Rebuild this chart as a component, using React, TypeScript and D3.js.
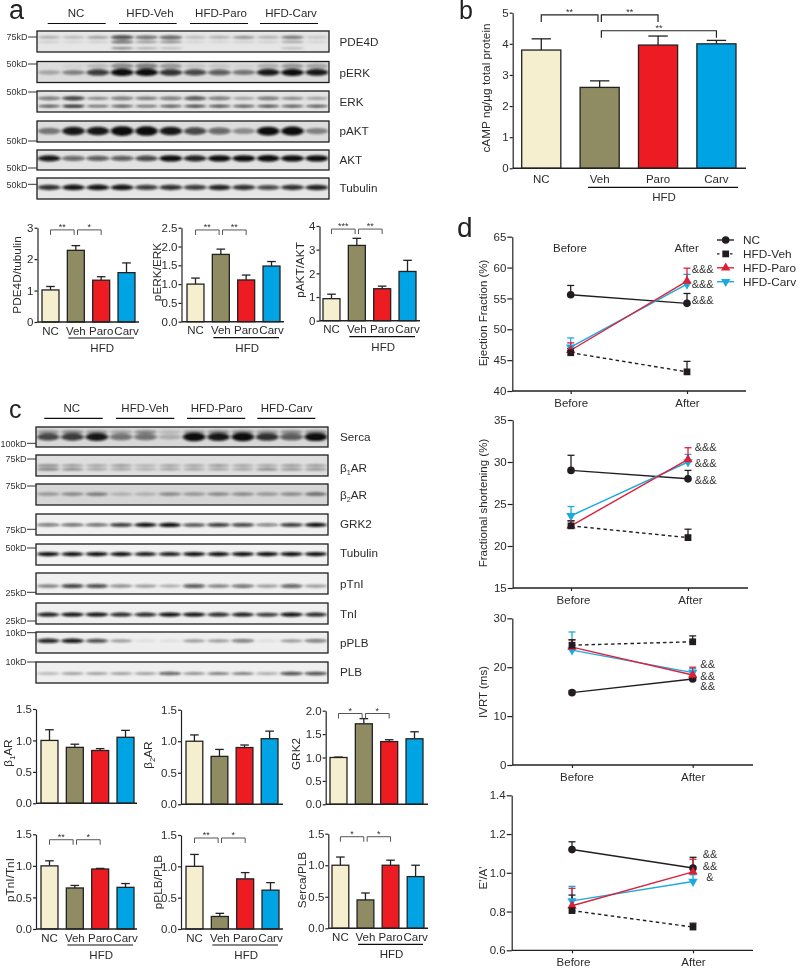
import React, { useEffect, useRef } from "react";
import * as d3 from "d3";

// ---------- categories ----------
const groups = ["NC", "Veh", "Paro", "Carv"];
const groupColors = ["#f6efcf", "#8f8b63", "#ed1c24", "#00a4e4"];
const groupHeaders = ["NC", "HFD-Veh", "HFD-Paro", "HFD-Carv"];

// ---------- bar values (mean, top of error bar) ----------
const pde4dV = [1.02, 2.28, 1.33, 1.57], pde4dE = [1.13, 2.43, 1.44, 1.88];
const perkV = [1.0, 1.79, 1.11, 1.48], perkE = [1.16, 1.93, 1.24, 1.6];
const paktV = [0.93, 3.18, 1.35, 2.08], paktE = [1.12, 3.48, 1.46, 2.55];
const campV = [3.8, 2.6, 3.96, 4.0], campE = [4.16, 2.81, 4.25, 4.11];
const b1V = [1.0, 0.89, 0.84, 1.05], b1E = [1.17, 0.94, 0.87, 1.16];
const b2V = [1.0, 0.76, 0.9, 1.04], b2E = [1.1, 0.87, 0.94, 1.16];
const grkV = [1.0, 1.72, 1.34, 1.4], grkE = [1.01, 1.83, 1.38, 1.55];
const ptniV = [1.0, 0.65, 0.95, 0.66], ptniE = [1.08, 0.69, 0.96, 0.72];
const pplbV = [1.0, 0.2, 0.8, 0.62], pplbE = [1.19, 0.25, 0.9, 0.74];
const sercaV = [1.0, 0.45, 1.0, 0.82], sercaE = [1.13, 0.56, 1.08, 1.0];

// ---------- line values [before, after] ----------
const timePoints = ["Before", "After"];
const efNC = [55.6, 54.2], efNCe = [57.1, 55.8];
const efVeh = [46.2, 43.1], efVehe = [46.9, 44.8];
const efParo = [46.6, 57.8], efParoe = [47.8, 59.9];
const efCarv = [47.1, 57.3], efCarve = [48.6, 58.9];
const fsNC = [29, 28], fsNCe = [30.8, 29];
const fsVeh = [22.4, 21], fsVehe = [23, 22];
const fsParo = [22.4, 30.3], fsParoe = [23, 31.7];
const fsCarv = [23.6, 30], fsCarve = [24.7, 30.9];
const ivNC = [14.8, 17.6], ivNCe = [15.2, 18];
const ivVeh = [24.5, 25.2], ivVehe = [25.6, 26.4];
const ivParo = [24.1, 18.4], ivParoe = [25.6, 20];
const ivCarv = [23.5, 18.9], ivCarve = [27.2, 19.7];
const eaNC = [1.12, 1.025], eaNCe = [1.16, 1.08];
const eaVeh = [0.805, 0.72], eaVehe = [0.885, 0.74];
const eaParo = [0.83, 1.005], eaParoe = [0.92, 1.07];
const eaCarv = [0.855, 0.955], eaCarve = [0.93, 0.99];

// ---------- blot band darkness per lane ----------
const pde4dHi = [0.25, 0.2, 0.3, 0.7, 0.55, 0.6, 0.2, 0.25, 0.35, 0.25, 0.45, 0.15];
const pde4dMid = [0.12, 0.1, 0.12, 0.6, 0.35, 0.4, 0.1, 0.1, 0.12, 0.12, 0.3, 0.1];
const pde4dLo = [0, 0, 0, 0.4, 0.25, 0.2, 0, 0, 0, 0, 0.2, 0];
const perkB = [0.25, 0.4, 0.75, 1, 1, 0.8, 0.7, 0.6, 0.45, 0.9, 0.95, 0.9];
const perkHaze = [0, 0.05, 0.15, 0.35, 0.4, 0.3, 0.1, 0.1, 0.05, 0.2, 0.3, 0.25];
const erkHi = [0.5, 0.75, 0.4, 0.5, 0.45, 0.5, 0.65, 0.5, 0.3, 0.5, 0.4, 0.3];
const erkLo = [0.7, 0.9, 0.6, 0.7, 0.6, 0.7, 0.8, 0.75, 0.7, 0.75, 0.7, 0.7];
const paktB = [0.45, 0.9, 0.9, 1.2, 1.1, 0.9, 0.7, 0.55, 0.35, 0.95, 1, 0.4];
const aktB = [0.9, 0.55, 0.6, 0.6, 0.7, 0.95, 0.85, 0.95, 0.95, 1, 0.95, 0.95];
const tubAB = [0.8, 0.9, 0.9, 0.9, 0.75, 0.8, 0.75, 0.85, 0.8, 0.7, 0.8, 0.85];
const sercaB = [0.7, 0.75, 0.9, 0.5, 0.5, 0.2, 1, 0.9, 1, 0.8, 0.6, 0.95];
const sercaHaze = [0.3, 0.35, 0.3, 0.25, 0.35, 0.15, 0.3, 0.35, 0.35, 0.3, 0.35, 0.35];
const b1Hi = [0.4, 0.35, 0.3, 0.35, 0.25, 0.3, 0.3, 0.35, 0.3, 0.3, 0.35, 0.35];
const b1Lo = [0.45, 0.4, 0.3, 0.3, 0.25, 0.3, 0.3, 0.3, 0.3, 0.4, 0.35, 0.35];
const b2B = [0.3, 0.35, 0.4, 0.2, 0.2, 0.35, 0.3, 0.35, 0.35, 0.3, 0.35, 0.45];
const grkB = [0.55, 0.6, 0.6, 0.8, 0.95, 1, 0.7, 0.8, 0.75, 0.5, 0.8, 0.95];
const tubCB = [1, 0.95, 1, 0.95, 0.9, 0.9, 1, 0.95, 1, 1, 1, 1];
const ptnB = [0.45, 0.75, 0.7, 0.4, 0.35, 0.3, 0.65, 0.45, 0.55, 0.35, 0.6, 0.35];
const tniB = [0.9, 0.95, 0.95, 0.85, 0.85, 1, 0.95, 0.85, 0.9, 0.8, 1, 0.85];
const pplbB = [0.85, 0.9, 0.7, 0.35, 0.08, 0.08, 0.35, 0.35, 0.5, 0.08, 0.35, 0.5];
const plbB = [0.25, 0.35, 0.35, 0.35, 0.35, 0.6, 0.4, 0.45, 0.45, 0.3, 0.7, 0.7];

// ---------- layout ----------
const FONT = "'Liberation Sans', Arial, sans-serif";
const INK = "#2b2b2b";
const lanes = d3.range(12);

const blotsA = [
  { name: "PDE4D", top: 31, bottom: 52, labelY: 46, bg: "#e6e6e6", bands: [[pde4dHi, 0.3, 4], [pde4dMid, 0.52, 3], [pde4dLo, 0.82, 3]] },
  { name: "pERK", top: 61.5, bottom: 82.5, labelY: 76.7, bg: "#dcdcdc", bands: [[perkHaze, 0.22, 7], [perkB, 0.52, 6]] },
  { name: "ERK", top: 91, bottom: 112, labelY: 106, bg: "#e4e4e4", bands: [[erkHi, 0.35, 4], [erkLo, 0.72, 2.5]] },
  { name: "pAKT", top: 121, bottom: 142, labelY: 135, bg: "#dddddd", bands: [[paktB, 0.48, 7.5]] },
  { name: "AKT", top: 150, bottom: 170, labelY: 164, bg: "#e2e2e2", bands: [[aktB, 0.42, 5.5]] },
  { name: "Tubulin", top: 178, bottom: 199, labelY: 191.7, bg: "#e6e6e6", bands: [[tubAB, 0.45, 5]] },
];
const blotsC = [
  { name: "Serca", top: 427, bottom: 447, labelY: 440.7, bg: "#d8d8d8", bands: [[sercaHaze, 0.25, 5], [sercaB, 0.5, 7]] },
  { name: "β|1|AR", top: 455, bottom: 476, labelY: 472.3, bg: "#dedede", bands: [[b1Hi, 0.5, 3], [b1Lo, 0.68, 3]] },
  { name: "β|2|AR", top: 484, bottom: 505, labelY: 499.3, bg: "#d6d6d6", bands: [[b2B, 0.48, 4.5]] },
  { name: "GRK2", top: 514, bottom: 535, labelY: 527.7, bg: "#f0f0f0", bands: [[grkB, 0.52, 3.5]] },
  { name: "Tubulin", top: 544, bottom: 565, labelY: 557.3, bg: "#f2f2f2", bands: [[tubCB, 0.48, 3.5]] },
  { name: "pTnI", top: 573, bottom: 594, labelY: 588.3, bg: "#f0f0f0", bands: [[ptnB, 0.62, 4]] },
  { name: "TnI", top: 603, bottom: 624, labelY: 617.7, bg: "#f0f0f0", bands: [[tniB, 0.55, 3.5]] },
  { name: "pPLB", top: 632, bottom: 653, labelY: 646.7, bg: "#eeeeee", bands: [[pplbB, 0.42, 4]] },
  { name: "PLB", top: 662, bottom: 683, labelY: 676, bg: "#efefef", bands: [[plbB, 0.55, 3.5]] },
];

const markersA: [string, number][] = [["75kD", 37], ["50kD", 64], ["50kD", 92], ["50kD", 141], ["50kD", 168], ["50kD", 184.3]];
const markersC: [string, number][] = [["100kD", 443.3], ["75kD", 459], ["75kD", 486], ["75kD", 529.3], ["50kD", 548], ["25kD", 592.3], ["25kD", 621], ["10kD", 632.7], ["10kD", 662]];

const d2 = (v: number) => d3.format(".1f")(v);
const d0 = (v: number) => d3.format("d")(v);

const t15 = [0, 0.5, 1, 1.5];
const barCharts = [
  { label: "PDE4D/tubulin", lx: 17, ly: 275, V: pde4dV, E: pde4dE, max: 3, ticks: [0, 1, 2, 3], fmt: d0, x0: 37.5, y0: 322, yT: 227.7, xE: 139, bL: 42, bR: 135, names: true, br: [[0, 1, 2.93, "**"], [1, 2, 2.93, "*"]] },
  { label: "pERK/ERK", lx: 157, ly: 272, V: perkV, E: perkE, max: 2.5, ticks: [0, 0.5, 1, 1.5, 2, 2.5], fmt: d2, x0: 181.5, y0: 321.7, yT: 227.7, xE: 284, bL: 187, bR: 280, names: true, br: [[0, 1, 2.44, "**"], [1, 2, 2.44, "**"]] },
  { label: "pAKT/AKT", lx: 300, ly: 270, V: paktV, E: paktE, max: 4, ticks: [0, 1, 2, 3, 4], fmt: d0, x0: 319.5, y0: 320.7, yT: 226, xE: 420, bL: 323, bR: 416, names: true, br: [[0, 1, 3.87, "***"], [1, 2, 3.87, "**"]] },
  { label: "cAMP ng/µg total protein", lx: 486, ly: 88, V: campV, E: campE, max: 5, ticks: [0, 1, 2, 3, 4, 5], fmt: d0, x0: 512.7, y0: 168.3, yT: 12.7, xE: 746, bL: 521.7, bR: 736, names: true, big: true, br: [[0, 1, 4.93, "**"], [1, 2, 4.93, "**"], [1, 3, 4.42, "**"]] },
  { label: "β|1|AR", lx: 8, ly: 753, V: b1V, E: b1E, max: 1.5, ticks: t15, fmt: d2, x0: 36, y0: 803.3, yT: 709, xE: 137, bL: 41, bR: 134, names: false, br: [] },
  { label: "β|2|AR", lx: 148, ly: 755, V: b2V, E: b2E, max: 1.5, ticks: t15, fmt: d2, x0: 181, y0: 804.3, yT: 709.7, xE: 283, bL: 186, bR: 278, names: false, br: [] },
  { label: "GRK2", lx: 296, ly: 754, V: grkV, E: grkE, max: 2, ticks: [0, 0.5, 1, 1.5, 2], fmt: d2, x0: 325.7, y0: 804.3, yT: 710.7, xE: 428, bL: 330, bR: 423, names: false, br: [[0, 1, 1.94, "*"], [1, 2, 1.94, "*"]] },
  { label: "pTnI/TnI", lx: 10, ly: 880, V: ptniV, E: ptniE, max: 1.5, ticks: t15, fmt: d2, x0: 36, y0: 929, yT: 834.3, xE: 137, bL: 41, bR: 134, names: true, br: [[0, 1, 1.414, "**"], [1, 2, 1.414, "*"]] },
  { label: "pPLB/PLB", lx: 158, ly: 882, V: pplbV, E: pplbE, max: 1.5, ticks: t15, fmt: d2, x0: 181, y0: 929, yT: 835, xE: 283, bL: 186, bR: 279, names: true, br: [[0, 1, 1.452, "**"], [1, 2, 1.452, "*"]] },
  { label: "Serca/PLB", lx: 302, ly: 880, V: sercaV, E: sercaE, max: 1.5, ticks: t15, fmt: d2, x0: 328.3, y0: 928.3, yT: 833.7, xE: 428, bL: 332, bR: 424, names: true, br: [[0, 1, 1.452, "*"], [1, 2, 1.452, "*"]] },
];

const lineCharts = [
  { label: "Ejection Fraction (%)", ly: 313, min: 40, max: 65, ticks: [40, 45, 50, 55, 60, 65], fmt: d0, x0: 512.3, y0: 391, yT: 236.7, xB: 570.7, xA: 687, xE: 746, shift: [0, 0],
    s: [[efNC, efNCe], [efCarv, efCarve], [efParo, efParoe], [efVeh, efVehe]],
    amp: [["&&&", 702.7, 269], ["&&&", 702.7, 284], ["&&&", 702.7, 300]] },
  { label: "Fractional shortening (%)", ly: 503, min: 15, max: 35, ticks: [15, 20, 25, 30, 35], fmt: d0, x0: 512.7, y0: 588, yT: 420, xB: 571, xA: 688, xE: 748, shift: [2, 2],
    s: [[fsNC, fsNCe], [fsCarv, fsCarve], [fsParo, fsParoe], [fsVeh, fsVehe]],
    amp: [["&&&", 705.7, 446.7], ["&&&", 705.7, 463], ["&&&", 705.7, 480]] },
  { label: "IVRT (ms)", ly: 692, min: 0, max: 30, ticks: [0, 10, 20, 30], fmt: d0, x0: 512.3, y0: 765, yT: 618.3, xB: 572, xA: 692.7, xE: 753, shift: [4.5, 0],
    s: [[ivNC, ivNCe], [ivCarv, ivCarve], [ivParo, ivParoe], [ivVeh, ivVehe]],
    amp: [["&&", 707.7, 664], ["&&", 707.7, 676], ["&&", 707.7, 686]] },
  { label: "E'/A'", ly: 878, min: 0.6, max: 1.4, ticks: [0.6, 0.8, 1, 1.2, 1.4], fmt: d2, x0: 511.7, y0: 950.3, yT: 795.3, xB: 572, xA: 693, xE: 753, shift: [1, 0],
    s: [[eaNC, eaNCe], [eaCarv, eaCarve], [eaParo, eaParoe], [eaVeh, eaVehe]],
    amp: [["&&", 710, 854], ["&&", 710, 866], ["&", 710, 877]] },
];

// order of s in lineCharts: NC, Carv, Paro, Veh
const seriesStyle = [
  { name: "NC", color: "#231f20", dash: null, sym: d3.symbolCircle, size: 46, rot: 0 },
  { name: "HFD-Carv", color: "#1fa9e0", dash: null, sym: d3.symbolTriangle, size: 38, rot: 180 },
  { name: "HFD-Paro", color: "#dd2038", dash: null, sym: d3.symbolTriangle, size: 38, rot: 0 },
  { name: "HFD-Veh", color: "#231f20", dash: "3.5,3", sym: d3.symbolSquare, size: 46, rot: 0 },
];
const legendOrder = [0, 3, 2, 1];

type Sel = d3.Selection<any, any, any, any>;

function txt(g: Sel, s: string, x: number, y: number, size: number, anchor = "start", fill = INK) {
  return g.append("text").attr("x", x).attr("y", y).attr("font-size", size).attr("text-anchor", anchor).attr("fill", fill).text(s);
}

// "β|1|AR" renders the middle part as a subscript
function richLabel(node: Sel, s: string, size: number) {
  const parts = s.split("|");
  if (parts.length === 1) { node.text(s); return; }
  node.text(null);
  node.append("tspan").text(parts[0]);
  node.append("tspan").attr("font-size", size * 0.62).attr("dy", size * 0.22).text(parts[1]);
  node.append("tspan").attr("dy", -size * 0.22).text(parts[2]);
}

function drawBlots(g: Sel, blots: any[], left: number, right: number, labelX: number, id: string) {
  const x = d3.scaleBand<number>().domain(lanes).range([left, right]);
  blots.forEach((b, i) => {
    const cid = `${id}${i}`;
    g.append("clipPath").attr("id", cid).append("rect").attr("x", left).attr("y", b.top).attr("width", right - left).attr("height", b.bottom - b.top);
    const y = d3.scaleLinear().domain([0, 1]).range([b.top, b.bottom]);
    const inner = g.append("g").attr("clip-path", `url(#${cid})`);
    inner.append("rect").attr("x", left).attr("y", b.top).attr("width", right - left).attr("height", b.bottom - b.top).attr("fill", b.bg);
    const bandG = inner.append("g").attr("filter", "url(#bandBlur)");
    b.bands.forEach(([vals, frac, thick]: [number[], number, number]) => {
      bandG.selectAll(null).data(vals).enter().append("ellipse")
        .attr("cx", (_d, k) => x(k)! + x.bandwidth() / 2)
        .attr("rx", x.bandwidth() * 0.47)
        .attr("cy", y(frac))
        .attr("ry", (d) => (thick * (0.6 + 0.6 * d)) / 2)
        .attr("fill", "#0d0d0d")
        .attr("opacity", (d) => Math.min(1, d * 1.05));
    });
    g.append("rect").attr("x", left).attr("y", b.top).attr("width", right - left).attr("height", b.bottom - b.top)
      .attr("fill", "none").attr("stroke", "#1e1e1e").attr("stroke-width", 1.3);
    const t = txt(g, "", labelX, b.labelY, 11.7);
    richLabel(t, b.name, 11.7);
  });
}

function drawMarkers(g: Sel, ms: [string, number][], boxLeft: number) {
  ms.forEach(([s, y]) => {
    txt(g, s, boxLeft - 9.5, y + 3.2, 9, "end", "#333");
    g.append("line").attr("x1", boxLeft - 9).attr("x2", boxLeft).attr("y1", y).attr("y2", y).attr("stroke", "#333").attr("stroke-width", 1);
  });
}

function drawHeaders(g: Sel, centers: number[], spans: [number, number][], base: number, lineY: number) {
  groupHeaders.forEach((h, i) => {
    txt(g, h, centers[i], base, 11.5, "middle");
    g.append("line").attr("x1", spans[i][0]).attr("x2", spans[i][1]).attr("y1", lineY).attr("y2", lineY).attr("stroke", "#111").attr("stroke-width", 1.2);
  });
}

function drawBarChart(g: Sel, c: any) {
  const fs = 11.5;
  const y = d3.scaleLinear().domain([0, c.max]).range([c.y0, c.yT]);
  const x = d3.scaleBand<string>().domain(groups).range([c.bL, c.bR]).paddingInner(0.33).paddingOuter(0);
  const bw = x.bandwidth();

  // error bars
  groups.forEach((n, i) => {
    const cx = x(n)! + bw / 2;
    g.append("line").attr("x1", cx).attr("x2", cx).attr("y1", y(c.V[i])).attr("y2", y(c.E[i])).attr("stroke", "#222").attr("stroke-width", 1.3);
    const cap = c.big ? 9.7 : 4.3;
    g.append("line").attr("x1", cx - cap).attr("x2", cx + cap).attr("y1", y(c.E[i])).attr("y2", y(c.E[i])).attr("stroke", "#222").attr("stroke-width", 1.3);
  });
  g.selectAll(null).data(c.V as number[]).enter().append("rect")
    .attr("x", (_d, i) => x(groups[i])!)
    .attr("width", bw)
    .attr("y", (d) => y(d))
    .attr("height", (d) => c.y0 - y(d))
    .attr("fill", (_d, i) => groupColors[i])
    .attr("stroke", "#222").attr("stroke-width", 1.3);

  // axes
  const ya = g.append("g").attr("transform", `translate(${c.x0},0)`)
    .call(d3.axisLeft(y).tickValues(c.ticks).tickSizeInner(3).tickSizeOuter(0).tickPadding(1).tickFormat(c.fmt));
  ya.selectAll("path,line").attr("stroke", "#222").attr("stroke-width", 1.2);
  ya.selectAll("text").attr("font-size", fs).attr("fill", INK).attr("font-family", FONT);
  const xa = d3.scaleLinear().range([c.x0, c.xE]);
  g.append("line").attr("x1", xa(0)).attr("x2", xa(1)).attr("y1", c.y0).attr("y2", c.y0).attr("stroke", "#222").attr("stroke-width", 1.4);

  // y label
  const yl = g.append("text").attr("transform", `translate(${c.lx + 4},${c.ly}) rotate(-90)`)
    .attr("text-anchor", "middle").attr("font-size", 11.8).attr("fill", INK);
  richLabel(yl, c.label, 11.8);

  // category names
  if (c.names) {
    groups.forEach((n) => txt(g, n, x(n)! + bw / 2, c.y0 + (c.big ? 15 : 12.5), fs, "middle"));
    const ulL = x("Veh")! + (c.big ? 8 : 1);
    const ulR = x("Carv")! + bw + (c.big ? 2 : -1);
    const uy = c.y0 + (c.big ? 19 : 16);
    g.append("line").attr("x1", ulL).attr("x2", ulR).attr("y1", uy).attr("y2", uy).attr("stroke", "#111").attr("stroke-width", 1.2);
    txt(g, "HFD", (ulL + ulR) / 2 + 1, c.y0 + (c.big ? 32.5 : 30), fs, "middle");
  }

  // significance brackets
  c.br.forEach(([a, b, level, stars]: [number, number, number, string]) => {
    const xa1 = x(groups[a])! + bw / 2 + (a === 1 ? 1.7 : 0);
    const xb1 = x(groups[b])! + bw / 2 - (b === 1 ? 1.7 : 0);
    const yy = y(level);
    const drop = c.big ? 7 : 5;
    g.append("path").attr("d", d3.line()([[xa1, yy + drop], [xa1, yy], [xb1, yy], [xb1, yy + drop]]))
      .attr("fill", "none").attr("stroke", c.big ? "#222" : "#555").attr("stroke-width", c.big ? 1.2 : 1);
    txt(g, stars, (xa1 + xb1) / 2, yy, 9, "middle", "#333");
  });
}

function drawLineChart(g: Sel, c: any) {
  const y = d3.scaleLinear().domain([c.min, c.max]).range([c.y0, c.yT]);
  const x = d3.scaleLinear().domain([0, 1]).range([c.xB, c.xA]);

  const ya = g.append("g").attr("transform", `translate(${c.x0},0)`)
    .call(d3.axisLeft(y).tickValues(c.ticks).tickSizeInner(5).tickSizeOuter(0).tickPadding(1).tickFormat(c.fmt));
  ya.selectAll("path,line").attr("stroke", "#222").attr("stroke-width", 1.2);
  ya.selectAll("text").attr("font-size", 11.5).attr("fill", INK).attr("font-family", FONT);

  g.append("line").attr("x1", c.x0).attr("x2", c.xE).attr("y1", c.y0).attr("y2", c.y0).attr("stroke", "#222").attr("stroke-width", 1.3);
  const xa = g.append("g").attr("transform", `translate(0,${c.y0})`)
    .call(d3.axisBottom(x).tickValues([0, 1]).tickSizeInner(3).tickSizeOuter(0).tickPadding(5).tickFormat((_d, i) => timePoints[i]));
  xa.select(".domain").remove();
  xa.selectAll("line").attr("stroke", "#222").attr("stroke-width", 1.2);
  xa.selectAll("text").attr("font-size", 11.5).attr("fill", INK).attr("font-family", FONT)
    .attr("dx", (_d, i) => c.shift[i]);

  g.append("text").attr("transform", `translate(487,${c.ly}) rotate(-90)`).attr("text-anchor", "middle")
    .attr("font-size", 11.5).attr("fill", INK).text(c.label);

  const line = d3.line<number>().x((_d, i) => x(i)).y((d) => y(d));
  c.s.forEach(([vals, errs]: [number[], number[]], si: number) => {
    const st = seriesStyle[si];
    vals.forEach((v, i) => {
      g.append("line").attr("x1", x(i)).attr("x2", x(i)).attr("y1", y(v)).attr("y2", y(errs[i])).attr("stroke", st.color).attr("stroke-width", 1.3);
      g.append("line").attr("x1", x(i) - 3.5).attr("x2", x(i) + 3.5).attr("y1", y(errs[i])).attr("y2", y(errs[i])).attr("stroke", st.color).attr("stroke-width", 1.3);
    });
    const p = g.append("path").attr("d", line(vals)).attr("fill", "none").attr("stroke", st.color).attr("stroke-width", 1.4);
    if (st.dash) p.attr("stroke-dasharray", st.dash);
  });
  c.s.forEach(([vals]: [number[], number[]], si: number) => {
    const st = seriesStyle[si];
    g.selectAll(null).data(vals).enter().append("path")
      .attr("d", d3.symbol().type(st.sym).size(st.size)() as string)
      .attr("transform", (_d, i) => `translate(${x(i)},${y(vals[i])}) rotate(${st.rot})`)
      .attr("fill", st.color);
  });
  c.amp.forEach(([s, ax, ay]: [string, number, number]) => txt(g, s, ax, ay + 4, 11, "middle", "#333"));
}

function drawLegend(g: Sel) {
  const rows = d3.scalePoint<number>().domain(legendOrder).range([240, 281.7]);
  legendOrder.forEach((si) => {
    const st = seriesStyle[si];
    const ry = rows(si)!;
    const l = g.append("line").attr("x1", 717).attr("x2", 734).attr("y1", ry).attr("y2", ry).attr("stroke", st.color).attr("stroke-width", 1.4);
    if (st.dash) l.attr("stroke-dasharray", "2.5,4");
    g.append("path").attr("d", d3.symbol().type(st.sym).size(st.size)() as string)
      .attr("transform", `translate(725.7,${ry}) rotate(${st.rot})`).attr("fill", st.color);
    txt(g, st.name, 743, ry + 4, 11.8, "start", "#2b2b2b");
  });
}

export default function App() {
  const ref = useRef<SVGSVGElement | null>(null);
  useEffect(() => {
    const svg = d3.select(ref.current!);
    svg.selectAll("*").remove();
    const defs = svg.append("defs");
    defs.append("filter").attr("id", "bandBlur").attr("filterUnits", "userSpaceOnUse")
      .attr("x", 0).attr("y", 0).attr("width", 800).attr("height", 968)
      .append("feGaussianBlur").attr("stdDeviation", "1.5 1");
    defs.append("filter").attr("id", "soft").attr("filterUnits", "userSpaceOnUse")
      .attr("x", 0).attr("y", 0).attr("width", 800).attr("height", 968)
      .append("feGaussianBlur").attr("stdDeviation", 0.35);

    const root = svg.append("g").attr("font-family", FONT).attr("filter", "url(#soft)");
    root.append("rect").attr("width", 800).attr("height", 968).attr("fill", "#fff");

    txt(root, "a", 9, 19.3, 27, "start", "#222");
    txt(root, "b", 459, 18.5, 25, "start", "#222");
    txt(root, "c", 9, 417.7, 25, "start", "#222");
    txt(root, "d", 457, 237, 28, "start", "#222");

    drawHeaders(root, [76, 150, 221, 291], [[47.7, 105.7], [119, 176.7], [190, 248], [260, 318]], 17.3, 23.5);
    drawHeaders(root, [71.7, 145, 216.7, 286.7], [[44.3, 102.7], [116, 174.3], [187, 245.3], [257.3, 315.3]], 412.3, 418.3);
    drawBlots(root, blotsA, 37, 329, 339.5, "ca");
    drawBlots(root, blotsC, 36, 328, 340, "cc");
    drawMarkers(root, markersA, 37);
    drawMarkers(root, markersC, 36);

    barCharts.forEach((c) => drawBarChart(root, c));
    lineCharts.forEach((c) => drawLineChart(root, c));
    drawLegend(root);
    txt(root, "Before", 570, 252, 11.5, "middle");
    txt(root, "After", 686.7, 252, 11.5, "middle");
  }, []);
  return <svg ref={ref} width={800} height={968} style={{ position: "absolute", left: 0, top: 0, display: "block" }} />;
}
